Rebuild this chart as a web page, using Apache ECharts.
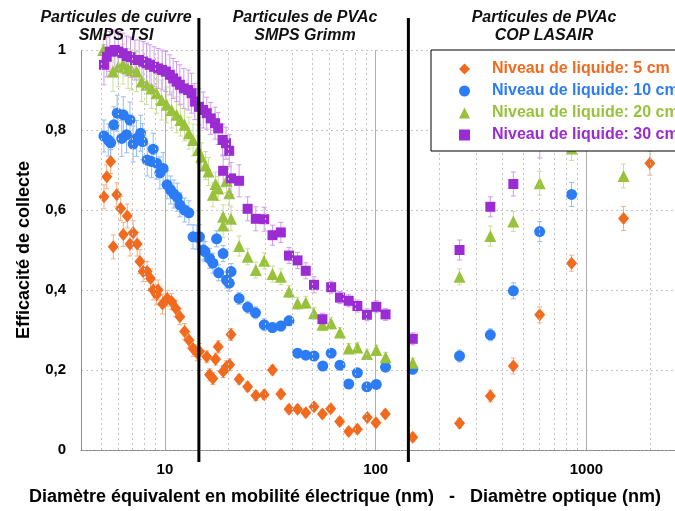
<!DOCTYPE html>
<html>
<head>
<meta charset="utf-8">
<script src="https://cdn.jsdelivr.net/npm/echarts@6/dist/echarts.min.js"></script>
<style>
html,body{margin:0;padding:0;background:#fff;}
#chart{width:675px;height:511px;}
</style>
</head>
<body>
<div id="chart"></div>
<script>
// ---- DATA: [diameter (nm), collection efficiency, error] ----
const SERIES_NAMES = ['Niveau de liquide: 5 cm','Niveau de liquide: 10 cm','Niveau de liquide: 20 cm','Niveau de liquide: 30 cm'];

const LEVEL_5CM = [
[5.14,0.633,0.03],[5.30,0.683,0.03],[5.53,0.721,0.03],[5.69,0.508,0.03],[5.91,0.638,0.03],[6.17,0.604,0.03],[6.35,0.539,0.03],[6.63,0.585,0.03],[6.83,0.515,0.03],[7.07,0.543,0.03],[7.39,0.515,0.03],[7.61,0.471,0.03],[7.89,0.446,0.025],[8.24,0.446,0.025],[8.55,0.429,0.025],[8.80,0.400,0.025],[9.13,0.388,0.025],[9.29,0.400,0.025],[9.75,0.365,0.025],[10.25,0.379,0.02],[10.76,0.371,0.02],[11.27,0.354,0.02],[11.78,0.333,0.02],[12.4,0.296,0.02],[13.0,0.275,0.02],[13.6,0.254,0.02],[14.2,0.243,0.02],[14.6,0.246,0.02],
[15.8,0.233,0.015],[16.3,0.188,0.015],[16.9,0.179,0.015],[17.4,0.227,0.015],[17.9,0.258,0.015],[18.9,0.196,0.015],[19.6,0.208,0.015],[20.3,0.213,0.015],[20.6,0.289,0.015],[22.5,0.177,0.012],[24.7,0.158,0.012],[27.0,0.136,0.012],[29.6,0.138,0.012],[32.4,0.200,0.012],[35.5,0.140,0.012],[38.8,0.102,0.01],[42.6,0.102,0.01],[46.6,0.093,0.01],[51.0,0.108,0.01],[55.9,0.090,0.01],[61.2,0.103,0.01],[67.5,0.071,0.01],[74.5,0.046,0.01],[81.9,0.052,0.01],[91.3,0.081,0.01],[100.3,0.068,0.01],[111.1,0.090,0.01],
[150,0.032,0.01],[250,0.067,0.012],[350,0.135,0.015],[450,0.210,0.02],[600,0.338,0.02],[850,0.467,0.02],[1500,0.579,0.03],[2000,0.717,0.03]
];

const LEVEL_10CM = [
[5.14,0.785,0.04],[5.39,0.775,0.04],[5.53,0.768,0.04],[5.73,0.813,0.045],[5.94,0.842,0.045],[6.24,0.779,0.045],[6.35,0.838,0.045],[6.58,0.788,0.045],[6.83,0.825,0.045],[7.07,0.765,0.045],[7.34,0.779,0.045],[7.67,0.792,0.045],[7.84,0.771,0.045],[8.24,0.725,0.04],[8.65,0.721,0.04],[8.80,0.752,0.04],[9.13,0.717,0.04],[9.47,0.693,0.04],[9.81,0.704,0.04],[10.25,0.663,0.035],[10.64,0.650,0.035],[11.03,0.640,0.035],[11.44,0.632,0.035],[11.78,0.613,0.03],[12.4,0.600,0.03],[13.0,0.593,0.03],[13.6,0.533,0.03],[14.2,0.532,0.03],[14.6,0.533,0.03],
[15.2,0.500,0.025],[15.5,0.496,0.025],[16.3,0.479,0.025],[16.9,0.467,0.025],[17.6,0.528,0.02],[18.0,0.443,0.02],[18.9,0.491,0.02],[19.6,0.425,0.02],[20.2,0.417,0.02],[20.6,0.446,0.02],[22.5,0.379,0.015],[24.7,0.357,0.015],[26.9,0.343,0.015],[29.6,0.313,0.015],[32.4,0.306,0.012],[35.5,0.310,0.012],[38.8,0.323,0.012],[42.6,0.242,0.01],[46.6,0.237,0.01],[51.0,0.235,0.01],[56.1,0.210,0.01],[61.5,0.242,0.01],[67.7,0.212,0.01],[74.5,0.165,0.01],[81.9,0.193,0.01],[90.9,0.158,0.01],[100.7,0.164,0.01],[111.4,0.207,0.01],
[150,0.202,0.012],[250,0.235,0.015],[350,0.288,0.015],[450,0.398,0.02],[600,0.546,0.025],[850,0.639,0.03],[1500,0.79,0.03],[2000,0.85,0.03]
];

const LEVEL_20CM = [
[5.10,1.0,0.04],[5.67,0.946,0.05],[6.01,0.958,0.05],[6.33,0.965,0.05],[6.69,0.954,0.05],[6.94,0.950,0.05],[7.34,0.946,0.05],[7.76,0.921,0.05],[8.19,0.913,0.05],[8.65,0.904,0.05],[9.13,0.892,0.05],[9.65,0.875,0.05],[10.2,0.863,0.045],[10.76,0.850,0.045],[11.36,0.838,0.045],[11.87,0.825,0.04],[12.4,0.813,0.04],[13.0,0.792,0.04],[13.6,0.775,0.04],[14.4,0.750,0.035],
[14.9,0.733,0.035],[15.6,0.711,0.035],[16.1,0.696,0.035],[16.9,0.638,0.03],[17.4,0.665,0.03],[17.9,0.654,0.03],[18.9,0.583,0.03],[18.9,0.561,0.03],[19.6,0.673,0.03],[20.2,0.642,0.03],[20.6,0.578,0.03],[22.5,0.510,0.025],[24.7,0.483,0.02],[27.0,0.450,0.02],[29.6,0.473,0.02],[32.4,0.440,0.02],[35.5,0.433,0.02],[38.8,0.396,0.015],[42.6,0.367,0.015],[46.6,0.369,0.015],[51.0,0.342,0.015],[55.9,0.313,0.015],[61.5,0.317,0.015],[67.7,0.294,0.012],[74.5,0.254,0.012],[81.9,0.256,0.012],[90.9,0.240,0.012],[100.7,0.250,0.012],[111.4,0.232,0.012],
[150,0.218,0.012],[250,0.433,0.02],[350,0.535,0.025],[450,0.571,0.025],[600,0.667,0.03],[850,0.754,0.03],[1500,0.685,0.03],[2000,0.80,0.03]
];

const LEVEL_30CM = [
[5.14,0.963,0.05],[5.30,0.983,0.05],[5.48,0.996,0.05],[5.79,1.0,0.05],[6.01,0.996,0.05],[6.30,0.992,0.05],[6.58,0.985,0.05],[6.87,0.982,0.05],[7.21,0.975,0.05],[7.55,0.975,0.05],[7.89,0.971,0.05],[8.19,0.967,0.05],[8.49,0.963,0.05],[8.89,0.958,0.05],[9.29,0.954,0.05],[9.71,0.950,0.05],[10.1,0.946,0.05],[10.56,0.938,0.05],[10.95,0.929,0.05],[11.36,0.921,0.05],[11.78,0.913,0.05],[12.3,0.904,0.05],[12.9,0.900,0.05],[13.39,0.892,0.05],[13.87,0.871,0.045],[14.5,0.858,0.045],
[15.2,0.850,0.045],[15.8,0.842,0.04],[16.5,0.829,0.04],[17.3,0.817,0.04],[17.9,0.804,0.04],[18.8,0.775,0.04],[18.9,0.698,0.04],[19.5,0.767,0.04],[20.2,0.748,0.04],[20.6,0.679,0.04],[22.5,0.673,0.04],[24.7,0.603,0.03],[27.0,0.578,0.03],[29.6,0.577,0.03],[32.4,0.537,0.025],[35.5,0.544,0.025],[38.8,0.486,0.02],[42.6,0.474,0.02],[46.6,0.448,0.02],[51.0,0.413,0.02],[55.9,0.327,0.015],[61.5,0.407,0.015],[67.7,0.381,0.015],[74.5,0.373,0.015],[81.9,0.360,0.015],[90.9,0.338,0.015],[100.7,0.358,0.015],[111.4,0.339,0.015],
[150,0.278,0.015],[250,0.500,0.025],[350,0.608,0.025],[450,0.665,0.03],[600,0.77,0.04],[850,0.83,0.03],[1500,0.9,0.03],[2000,0.92,0.03]
];

// instrument boundaries (nm) and section headers
const SEPARATORS = [14.5, 143];
const SECTION_TITLES = ['Particules de cuivre\nSMPS TSI', 'Particules de PVAc\nSMPS Grimm', 'Particules de PVAc\nCOP LASAIR'];
// minor log grid values
const MINOR_GRID = [5,6,7,8,9,20,30,40,50,60,70,80,90,200,300,400,500,600,700,800,900,2000,3000];
const X_MIN = 4, X_MAX = 3000;
const Y_MIN = 0, Y_MAX = 1, Y_STEP = 0.2;

// ---- STYLES ----
const FONT = '"Liberation Sans", Arial, Helvetica, sans-serif';
const COLORS = ['#F26A1E', '#2C7DF5', '#99C23C', '#9B2BD3'];
const ERR_COLORS = ['#F7AE84', '#93BCF8', '#CADF98', '#D09AEC'];
const SYMBOLS = ['diamond', 'circle', 'triangle', 'rect'];
const SIZES = [[11,13], 11, 12, 10];
const DATASETS = [LEVEL_5CM, LEVEL_10CM, LEVEL_20CM, LEVEL_30CM];

const chart = echarts.init(document.getElementById('chart'), null, {renderer: 'canvas'});

function errRender(color) {
  return function (params, api) {
    const x = api.value(0), y = api.value(1), e = api.value(2);
    const lo = api.coord([x, y - e]);
    const hi = api.coord([x, y + e]);
    const c = 2.5;
    const st = {stroke: color, lineWidth: 1};
    return {type: 'group', children: [
      {type: 'line', shape: {x1: lo[0], y1: lo[1], x2: hi[0], y2: hi[1]}, style: st},
      {type: 'line', shape: {x1: lo[0]-c, y1: lo[1], x2: lo[0]+c, y2: lo[1]}, style: st},
      {type: 'line', shape: {x1: hi[0]-c, y1: hi[1], x2: hi[0]+c, y2: hi[1]}, style: st}
    ]};
  };
}

const series = [];
// minor grid lines
series.push({
  type: 'scatter', data: [], silent: true, z: 0,
  markLine: {
    silent: true, symbol: 'none', animation: false,
    label: {show: false},
    lineStyle: {type: [2, 3], color: '#c4c4c4', width: 1},
    data: MINOR_GRID.map(v => ({xAxis: v}))
  }
});
DATASETS.forEach((d, i) => {
  series.push({
    type: 'custom', name: SERIES_NAMES[i] + ' err', data: d, z: 2,
    encode: {x: 0, y: 1}, renderItem: errRender(ERR_COLORS[i]), silent: true
  });
});
DATASETS.forEach((d, i) => {
  series.push({
    type: 'scatter', name: SERIES_NAMES[i], data: d.map(p => [p[0], p[1]]), z: 3,
    symbol: SYMBOLS[i], symbolSize: SIZES[i],
    itemStyle: {color: COLORS[i], opacity: 1}
  });
});
// instrument separator lines
series.push({
  type: 'custom', data: SEPARATORS.map(v => [v, 0]), z: 5, silent: true,
  encode: {x: 0, y: 1},
  renderItem: function (params, api) {
    const top = api.coord([api.value(0), Y_MAX]);
    const bot = api.coord([api.value(0), Y_MIN]);
    return {type: 'line', shape: {x1: top[0], y1: top[1] - 32, x2: bot[0], y2: bot[1] + 12},
            style: {stroke: '#000', lineWidth: 3}};
  }
});

const titleX = [116, 305, 544];
const graphics = SECTION_TITLES.map((t, i) => ({
  type: 'text', x: titleX[i], y: 27, z: 10,
  style: {text: t, align: 'center', verticalAlign: 'middle', fill: '#111',
          font: 'italic bold 16px ' + FONT, lineHeight: 18}
}));
graphics.push({
  type: 'text', x: 345, y: 497, z: 10,
  style: {text: 'Diamètre équivalent en mobilité électrique (nm)   -   Diamètre optique (nm)',
          align: 'center', verticalAlign: 'middle', fill: '#000', font: 'bold 18px ' + FONT}
});

chart.setOption({
  animation: false,
  backgroundColor: '#fff',
  grid: {left: 81, top: 50, width: 606, height: 400, containLabel: false, outerBoundsMode: 'none'},
  xAxis: {
    type: 'log', logBase: 10, min: X_MIN, max: X_MAX,
    axisLine: {show: true, lineStyle: {color: '#8a8a8a', width: 1, type: [3, 1]}},
    axisTick: {show: false},
    axisLabel: {
      margin: 12, color: '#000', fontFamily: FONT, fontWeight: 'bold', fontSize: 15,
      showMinLabel: false, showMaxLabel: false,
      formatter: function (v) {
        const l = Math.log10(v);
        return Math.abs(l - Math.round(l)) < 1e-6 ? String(Math.round(v)) : '';
      }
    },
    splitLine: {show: true, lineStyle: {color: '#b0b0b0', width: 1, type: 'solid'}}
  },
  yAxis: {
    type: 'value', min: Y_MIN, max: Y_MAX, interval: Y_STEP,
    name: 'Efficacité de collecte', nameLocation: 'middle', nameGap: 48,
    nameTextStyle: {color: '#000', fontFamily: FONT, fontWeight: 'bold', fontSize: 18},
    axisLine: {show: true, lineStyle: {color: '#8a8a8a', width: 1, type: [3, 1]}},
    axisTick: {show: false},
    axisLabel: {
      margin: 15, color: '#000', fontFamily: FONT, fontWeight: 'bold', fontSize: 15,
      formatter: v => (Math.round(v * 10) / 10).toString().replace('.', ',')
    },
    splitLine: {show: true, lineStyle: {color: '#c4c4c4', width: 1, type: [2, 3]}}
  },
  legend: {
    orient: 'vertical', left: 431, top: 50,
    padding: [11, 30, 8, 28],
    itemWidth: 11, itemHeight: 11, itemGap: 6,
    backgroundColor: '#fff', borderColor: '#000', borderWidth: 1,
    selectedMode: false, z: 8,
    textStyle: {fontFamily: FONT, fontWeight: 'bold', fontSize: 16, lineHeight: 16, padding: [0, 0, 0, 17]},
    data: SERIES_NAMES.map((n, i) => ({name: n, textStyle: {color: COLORS[i]}}))
  },
  graphic: graphics,
  series: series
});
</script>
</body>
</html>
